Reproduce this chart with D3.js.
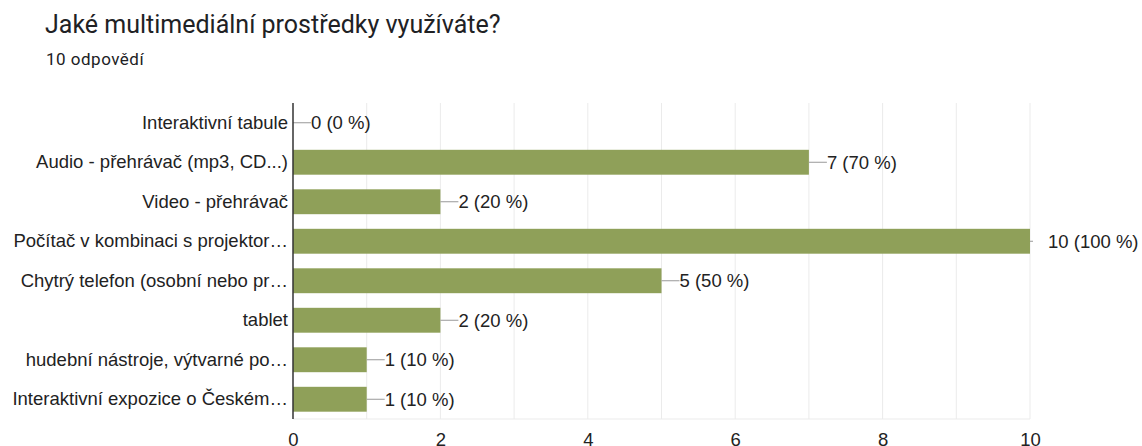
<!DOCTYPE html>
<html lang="cs">
<head>
  <meta charset="UTF-8">
  <title>Jaké multimediální prostředky využíváte?</title>
  <script src="https://d3js.org/d3.v7.min.js"></script>
  <style>
    body { margin: 0; background: #fff; }
    .title { font-family: Roboto, Arial, sans-serif; fill: #202124; }
    .lbl { font-family: Arial, "Liberation Sans", sans-serif; font-size: 18.5px; fill: #222; }
  </style>
</head>
<body>
  <div id="chart"></div>
  <script>
    const categories = [
      "Interaktivní tabule",
      "Audio - přehrávač (mp3, CD...)",
      "Video - přehrávač",
      "Počítač v kombinaci s projektor…",
      "Chytrý telefon (osobní nebo pr…",
      "tablet",
      "hudební nástroje, výtvarné po…",
      "Interaktivní expozice o Českém…"
    ];
    const counts = [0, 7, 2, 10, 5, 2, 1, 1];
    const percents = [0, 70, 20, 100, 50, 20, 10, 10];
    const xTicks = [0, 2, 4, 6, 8, 10];

    const width = 1142, height = 446;
    const plotLeft = 293, plotRight = 1030, plotTop = 103, plotBottom = 419;

    const svg = d3.select("#chart").append("svg")
      .attr("width", width).attr("height", height);

    svg.append("text").attr("class", "title")
      .attr("x", 45).attr("y", 33).attr("font-size", 25)
      .text("Jaké multimediální prostředky využíváte?");
    svg.append("text").attr("class", "title")
      .attr("x", 46).attr("y", 65).attr("font-size", 17)
      .attr("letter-spacing", 0.5)
      .text("10 odpovědí");

    const x = d3.scaleLinear().domain([0, 10]).range([plotLeft, plotRight]);
    const y = d3.scaleBand().domain(categories).range([plotTop, plotBottom]).paddingInner(0.37).paddingOuter(0.185);

    // light gridlines every 1
    svg.append("g").selectAll("line")
      .data(d3.range(1, 11))
      .join("line")
      .attr("x1", d => x(d)).attr("x2", d => x(d))
      .attr("y1", plotTop).attr("y2", plotBottom)
      .attr("stroke", "#ebebeb").attr("stroke-width", 1);
    svg.append("line")
      .attr("x1", plotLeft).attr("x2", plotRight)
      .attr("y1", plotBottom).attr("y2", plotBottom)
      .attr("stroke", "#ebebeb");

    // bars
    svg.append("g").selectAll("rect")
      .data(categories)
      .join("rect")
      .attr("x", plotLeft)
      .attr("y", d => y(d))
      .attr("width", (d, i) => x(counts[i]) - plotLeft)
      .attr("height", y.bandwidth())
      .attr("fill", "#8fa059");

    // leader lines + annotations
    const ann = svg.append("g");
    categories.forEach((c, i) => {
      const cy = y(c) + y.bandwidth() / 2;
      const x0 = x(counts[i]);
      const len = counts[i] === 10 ? 3 : 18;
      ann.append("line")
        .attr("x1", x0).attr("x2", x0 + len)
        .attr("y1", cy).attr("y2", cy)
        .attr("stroke", "#999").attr("stroke-width", 1);
      ann.append("text").attr("class", "lbl")
        .attr("x", x0 + 18).attr("y", cy).attr("dy", "0.35em")
        .text(`${counts[i]} (${percents[i]} %)`);
    });

    // category labels
    const yAxis = d3.axisLeft(y).tickSize(0).tickPadding(5);
    const ya = svg.append("g").attr("transform", `translate(${plotLeft},0)`).call(yAxis);
    ya.select(".domain").remove();
    ya.selectAll("text").attr("class", "lbl");
    ya.attr("font-size", null).attr("font-family", null);

    svg.append("line")
      .attr("x1", plotLeft).attr("x2", plotLeft)
      .attr("y1", plotTop).attr("y2", plotBottom)
      .attr("stroke", "#333").attr("stroke-width", 1.5);

    // x axis labels
    const xAxis = d3.axisBottom(x).tickValues(xTicks).tickSize(0).tickPadding(14);
    const xa = svg.append("g").attr("transform", `translate(0,${plotBottom})`).call(xAxis);
    xa.select(".domain").remove();
    xa.selectAll("text").attr("class", "lbl");
    xa.attr("font-size", null).attr("font-family", null);
  </script>
</body>
</html>
